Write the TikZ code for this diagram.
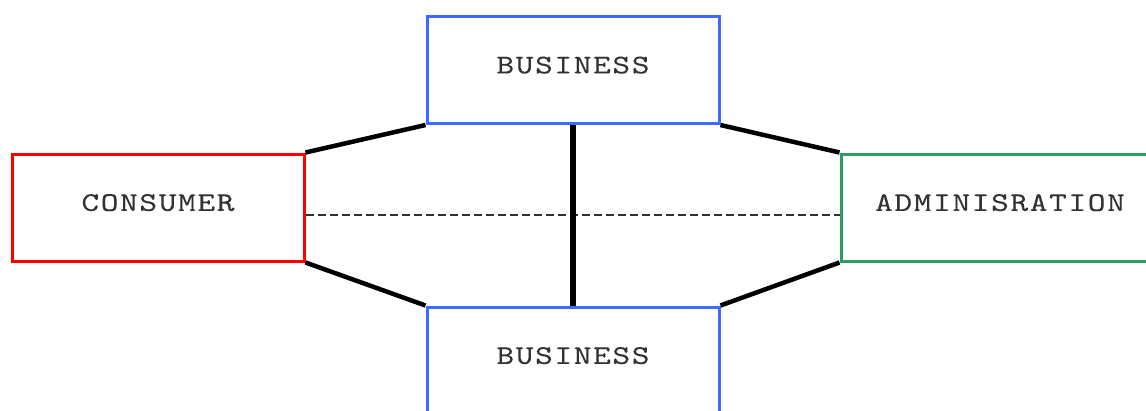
\documentclass[tikz,border=0pt]{standalone}
\usepackage{fontspec}
\newfontfamily\boxfont[Extension=.otf,FakeStretch=1.25,LetterSpace=6,FakeBold=0.15]{lmmono10-regular}
\definecolor{bizblue}{RGB}{59,108,255}
\definecolor{conred}{RGB}{255,0,0}
\definecolor{admgreen}{RGB}{46,155,100}
\definecolor{labelgray}{RGB}{50,50,50}
\tikzset{
  sector/.style={draw, line width=3pt, minimum width=292pt, minimum height=107pt,
    text depth=10pt, inner sep=0pt, font=\boxfont\fontsize{27}{27}\selectfont,
    text=labelgray},
  link/.style={line width=4.5pt, black},
  axis/.style={line width=6pt, black},
  divider/.style={line width=1.3pt, black!80, dash pattern=on 8pt off 4pt}
}
\begin{document}
\begin{tikzpicture}[x=1pt, y=-1pt]
  \useasboundingbox (0,0) rectangle (1146,410);
  \clip (0,0) rectangle (1146,410);
  % the four sectors
  \node[sector, draw=bizblue]  (top)      at (573,70)    {BUSINESS};
  \node[sector, draw=bizblue]  (bottom)   at (573,360.5) {BUSINESS};
  \node[sector, draw=conred]   (consumer) at (158,207.5) {CONSUMER};
  \node[sector, draw=admgreen, minimum width=318pt] (admin) at (1000,207.5) {ADMINISRATION};
  % dashed axis between consumer and administration
  \coordinate (dl) at (consumer.east |- 0,215);
  \coordinate (dr) at (admin.west |- 0,215);
  \draw[divider] (dl) -- (dr);
  % slanted connectors
  \draw[link] (consumer.north east) -- (top.south west);
  \draw[link] (top.south east) -- (admin.north west);
  \draw[link] (consumer.south east) -- (bottom.north west);
  \draw[link] (bottom.north east) -- (admin.south west);
  % vertical axis between the two business boxes
  \draw[axis] (top.south) -- (bottom.north);
\end{tikzpicture}
\end{document}
